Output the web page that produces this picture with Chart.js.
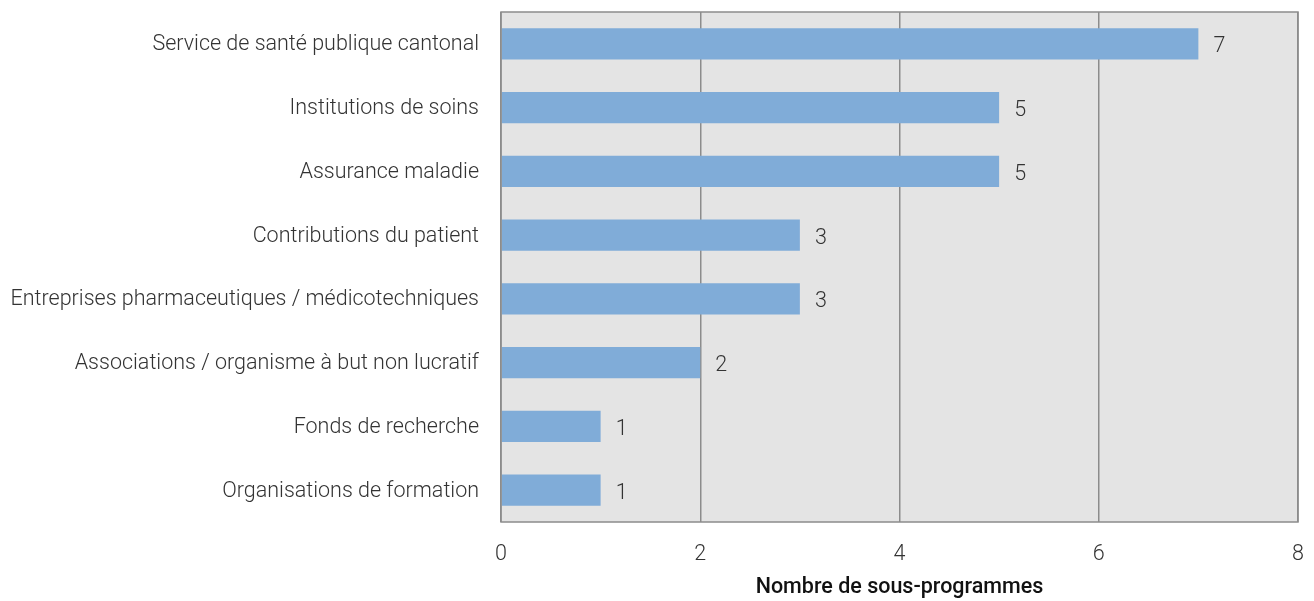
<!DOCTYPE html>
<html>
<head>
<meta charset="utf-8">
<script src="https://cdn.jsdelivr.net/npm/chart.js@4"></script>
<style>
  html, body { margin: 0; padding: 0; background: #fff; }
  #wrap { width: 1314px; height: 601px; position: relative; }
</style>
</head>
<body>
<div id="wrap"><canvas id="chart" width="1314" height="601"></canvas></div>
<script>
// Catégories et nombre de sous-programmes
var categories = [
    "Service de santé publique cantonal",
    "Institutions de soins",
    "Assurance maladie",
    "Contributions du patient",
    "Entreprises pharmaceutiques / médicotechniques",
    "Associations / organisme à but non lucratif",
    "Fonds de recherche",
    "Organisations de formation"
];
var values = [7, 5, 5, 3, 3, 2, 1, 1];
var xTicks = [0, 2, 4, 6, 8];

var FONT = "Roboto";
var SIZE = 21.5;

// Fond gris de la zone de tracé + cadre
var plotFrame = {
    id: 'plotFrame',
    beforeDraw: function(chart) {
        var a = chart.chartArea, ctx = chart.ctx;
        ctx.save();
        ctx.fillStyle = '#e4e4e4';
        ctx.fillRect(a.left, a.top, a.right - a.left, a.bottom - a.top);
        ctx.restore();
    },
    afterDraw: function(chart) {
        var a = chart.chartArea, ctx = chart.ctx;
        ctx.save();
        ctx.strokeStyle = '#8c8c8c';
        ctx.lineWidth = 1.5;
        ctx.strokeRect(a.left, a.top, a.right - a.left, a.bottom - a.top);
        ctx.restore();
    }
};

// Valeurs affichées à droite des barres
var valueLabels = {
    id: 'valueLabels',
    afterDatasetsDraw: function(chart) {
        var ctx = chart.ctx;
        var meta = chart.getDatasetMeta(0);
        ctx.save();
        ctx.font = '300 ' + SIZE + 'px ' + FONT;
        ctx.fillStyle = '#333';
        ctx.textAlign = 'left';
        ctx.textBaseline = 'middle';
        meta.data.forEach(function(bar, i) {
            ctx.fillText(String(values[i]), bar.x + 15, bar.y + 3);
        });
        ctx.restore();
    }
};

var ctx = document.getElementById('chart').getContext('2d');
var chart = new Chart(ctx, {
    type: 'bar',
    data: {
        labels: categories,
        datasets: [{
            data: values,
            backgroundColor: '#80acd8',
            borderWidth: 0,
            categoryPercentage: 1,
            barPercentage: 0.49
        }]
    },
    options: {
        indexAxis: 'y',
        responsive: false,
        animation: false,
        devicePixelRatio: 1,
        layout: { padding: { top: 12, right: 16, left: 0, bottom: 0 } },
        plugins: {
            legend: { display: false },
            tooltip: { enabled: false }
        },
        scales: {
            x: {
                min: 0,
                max: 8,
                afterBuildTicks: function(scale) {
                    scale.ticks = xTicks.map(function(v) { return { value: v }; });
                },
                grid: { color: '#8c8c8c', lineWidth: 1.5, drawTicks: false },
                border: { display: false },
                ticks: {
                    padding: 20,
                    color: '#333',
                    font: { family: FONT, size: SIZE, weight: 300 }
                },
                title: {
                    display: true,
                    text: 'Nombre de sous-programmes',
                    color: '#111',
                    font: { family: FONT, size: SIZE, weight: 500 },
                    padding: { top: 6, bottom: 0 }
                },
                afterFit: function(scale) {
                    scale.height = 79;
                    scale.paddingLeft = 0;
                    scale.paddingRight = 0;
                }
            },
            y: {
                grid: { display: false, drawTicks: false },
                border: { display: false },
                ticks: {
                    padding: 22,
                    labelOffset: 1,
                    color: '#333',
                    font: { family: FONT, size: SIZE, weight: 300 }
                },
                afterFit: function(scale) {
                    scale.width = 501;
                    scale.paddingTop = 0;
                    scale.paddingBottom = 0;
                }
            }
        }
    },
    plugins: [plotFrame, valueLabels]
});
</script>
</body>
</html>
